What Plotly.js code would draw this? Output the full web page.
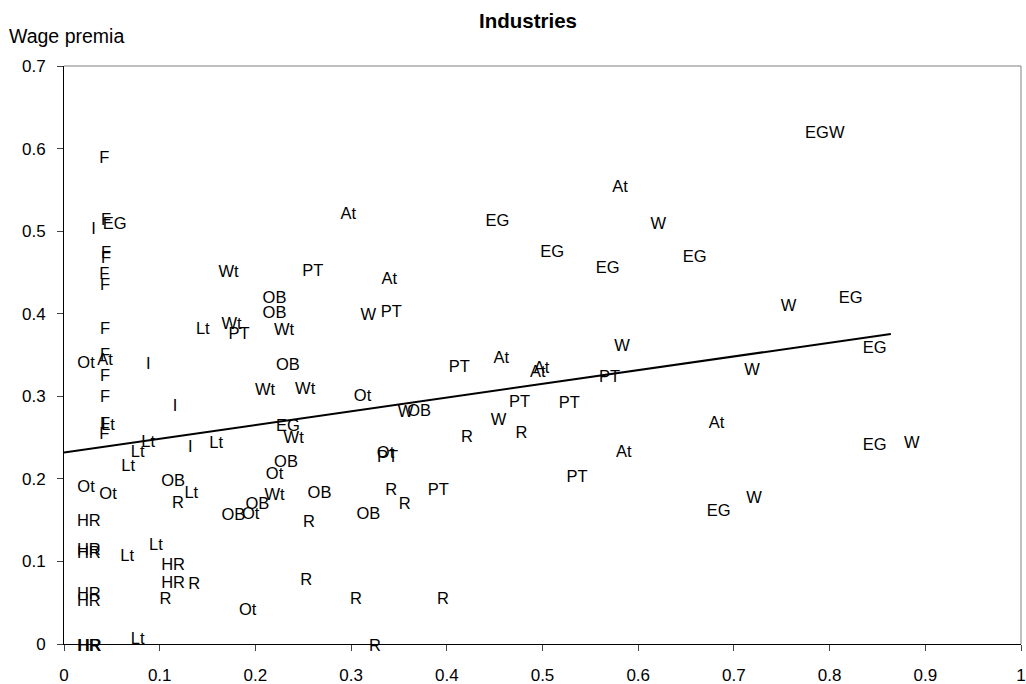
<!DOCTYPE html>
<html>
<head>
<meta charset="utf-8">
<script src="https://cdn.plot.ly/plotly-3.0.1.min.js"></script>
<style>html,body{margin:0;padding:0;background:#fff;}#chart{width:1026px;height:684px;}</style>
</head>
<body>
<div id="chart"></div>
<script>
// Industry labels (data labels) and their coordinates
const labels = [
  "F","I","F","EG","F","F","F","F","Wt","F",
  "Lt","Wt","PT","F","At","Ot","I","F","F","Wt",
  "I","Lt","F","F","Lt","Lt","I","Lt","Lt","Ot",
  "Ot","OB","Lt","R","OB","Ot","OB","HR","HR","HR",
  "Lt","Lt","HR","HR","R","R","HR","HR","Ot","Lt",
  "HR","HR","At","PT","At","OB","OB","W","PT","Wt",
  "OB","PT","Wt","Ot","W","OB","R","EG","Wt","Ot",
  "PT","OB","Ot","Wt","OB","R","R","PT","R","OB",
  "R","R","R","R","At","EG","W","EG","EG","EG",
  "W","At","At","At","PT","PT","PT","W","R","At",
  "PT","At","EG","EGW","W","EG","EG","W","EG","W",
  "W"
];
const xVals = [
  0.042,0.031,0.044,0.053,0.044,0.044,0.042,0.043,0.172,0.043,
  0.145,0.175,0.183,0.043,0.043,0.023,0.088,0.043,0.043,0.210,
  0.116,0.046,0.043,0.042,0.088,0.077,0.132,0.159,0.067,0.023,
  0.046,0.114,0.133,0.119,0.177,0.195,0.202,0.026,0.026,0.026,
  0.066,0.096,0.114,0.114,0.136,0.106,0.026,0.026,0.192,0.077,
  0.026,0.027,0.297,0.260,0.340,0.220,0.220,0.318,0.342,0.230,
  0.234,0.413,0.252,0.312,0.357,0.371,0.421,0.234,0.240,0.336,
  0.338,0.232,0.220,0.220,0.267,0.342,0.356,0.391,0.256,0.318,
  0.253,0.305,0.396,0.325,0.581,0.453,0.621,0.510,0.568,0.659,
  0.583,0.457,0.499,0.495,0.570,0.476,0.528,0.454,0.478,0.585,
  0.536,0.682,0.684,0.795,0.757,0.822,0.847,0.719,0.847,0.886,
  0.721
];
const yVals = [
  0.590,0.504,0.515,0.511,0.476,0.469,0.450,0.437,0.452,0.384,
  0.384,0.389,0.378,0.352,0.346,0.342,0.341,0.326,0.301,0.309,
  0.290,0.267,0.268,0.256,0.246,0.235,0.241,0.245,0.218,0.192,
  0.184,0.199,0.185,0.173,0.158,0.160,0.171,0.151,0.116,0.112,
  0.109,0.122,0.098,0.076,0.075,0.057,0.063,0.054,0.043,0.008,
  0.000,0.000,0.523,0.454,0.444,0.421,0.403,0.401,0.404,0.382,
  0.340,0.338,0.311,0.302,0.283,0.284,0.253,0.266,0.251,0.233,
  0.228,0.222,0.208,0.182,0.185,0.188,0.172,0.189,0.150,0.159,
  0.079,0.057,0.056,0.000,0.556,0.514,0.511,0.477,0.457,0.471,
  0.363,0.348,0.336,0.331,0.325,0.295,0.294,0.273,0.258,0.234,
  0.204,0.270,0.163,0.621,0.411,0.421,0.360,0.334,0.243,0.245,
  0.179
];
// Trend line end points
const trendX = [0, 0.864];
const trendY = [0.232, 0.3755];
const xTicks = [0,0.1,0.2,0.3,0.4,0.5,0.6,0.7,0.8,0.9,1];
const yTicks = [0,0.1,0.2,0.3,0.4,0.5,0.6,0.7];

const FONT = "Liberation Sans, Arial, sans-serif";

const traces = [
  {
    x: trendX, y: trendY, type: "scatter", mode: "lines",
    line: {color: "#000", width: 2}, hoverinfo: "skip", showlegend: false
  },
  {
    x: xVals, y: yVals, text: labels, type: "scatter", mode: "text",
    textposition: "middle center", cliponaxis: false,
    textfont: {family: FONT, size: 16.5, color: "#000"},
    showlegend: false
  }
];

const layout = {
  width: 1026, height: 684,
  margin: {l: 64, r: 5, t: 66, b: 40, pad: 0},
  paper_bgcolor: "#fff", plot_bgcolor: "#fff",
  showlegend: false,
  font: {family: FONT, color: "#000"},
  title: {
    text: "<b>Industries</b>",
    font: {family: FONT, size: 20.5, color: "#000"},
    x: 0.5146, xref: "container", xanchor: "center",
    y: 0.970, yref: "container", yanchor: "middle"
  },
  xaxis: {
    range: [0, 1], tickvals: xTicks, ticktext: xTicks.map(String),
    ticks: "outside", ticklen: 6, tickwidth: 1, tickcolor: "#444",
    showline: true, linecolor: "#000", linewidth: 1,
    showgrid: false, zeroline: false, fixedrange: true,
    tickfont: {family: FONT, size: 17, color: "#000"},
    ticklabelstandoff: 10
  },
  yaxis: {
    range: [0, 0.7], tickvals: yTicks, ticktext: yTicks.map(String),
    ticks: "outside", ticklen: 6, tickwidth: 1, tickcolor: "#444",
    showline: true, linecolor: "#000", linewidth: 1,
    showgrid: false, zeroline: false, fixedrange: true,
    tickfont: {family: FONT, size: 17, color: "#000"},
    ticklabelstandoff: 8
  },
  shapes: [
    {type: "line", xref: "paper", yref: "paper", x0: 0, x1: 1, y0: 1, y1: 1,
     line: {color: "#808080", width: 1}},
    {type: "line", xref: "paper", yref: "paper", x0: 1, x1: 1, y0: 0, y1: 1,
     line: {color: "#808080", width: 1}}
  ],
  annotations: [
    {text: "Wage premia", xref: "paper", yref: "paper",
     x: -0.06, xanchor: "left", y: 1.0516, yanchor: "middle",
     showarrow: false, font: {family: FONT, size: 19.5, color: "#000"}}
  ]
};

Plotly.newPlot("chart", traces, layout, {displayModeBar: false, staticPlot: true}).then(function (gd) {
  // Nudge the data-label layer so glyph centres sit on the data points (Excel-style centring)
  gd.querySelectorAll(".scatterlayer .trace g.text").forEach(function (g) {
    g.setAttribute("transform", "translate(0,2.5)");
  });
});
</script>
</body>
</html>
